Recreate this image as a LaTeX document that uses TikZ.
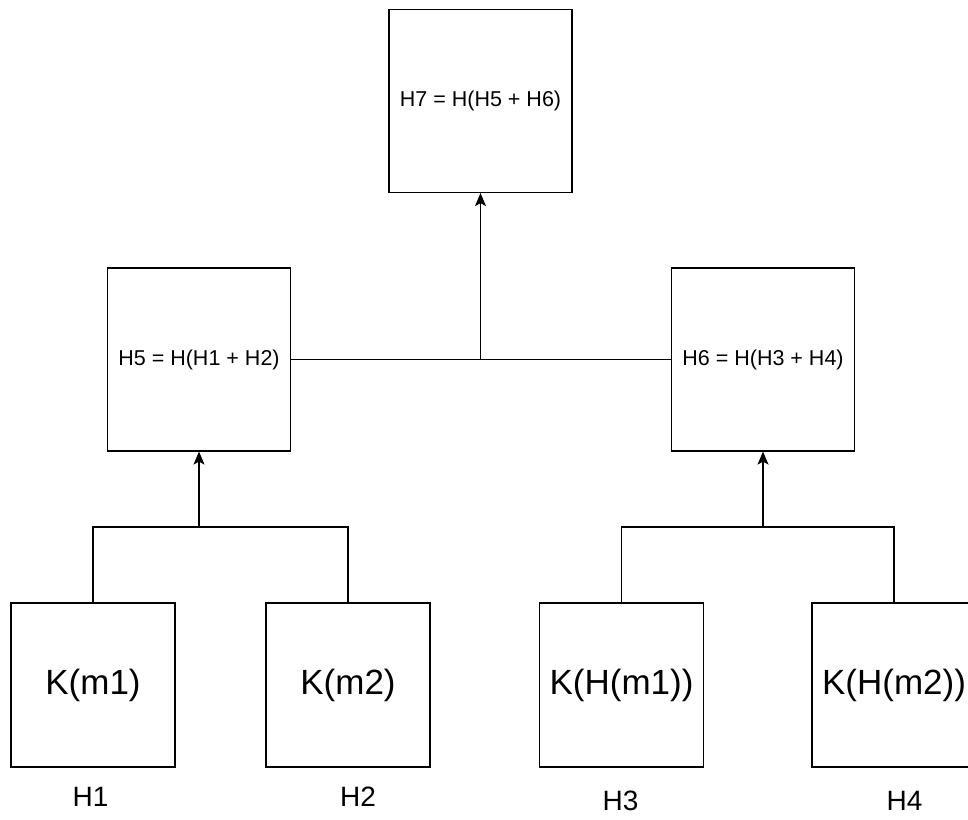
\documentclass[tikz,border=0pt]{standalone}
\usepackage{fontspec}
\setmainfont{Liberation Sans}
\usetikzlibrary{arrows.meta}

\begin{document}
\begin{tikzpicture}[x=1pt,y=-1pt,line width=1.2pt,
  hashbox/.style={draw, minimum width=183pt, minimum height=183pt, inner sep=0pt,
    font=\fontsize{21.5}{24}\selectfont},
  keybox/.style={draw, minimum width=164pt, minimum height=164pt, inner sep=0pt,
    font=\fontsize{35}{40}\selectfont},
  hlabel/.style={font=\fontsize{28}{30}\selectfont, inner sep=0pt},
  uparrow/.style={-{Stealth[length=13pt,width=11pt,inset=3pt]}}]
\useasboundingbox (0,0) rectangle (968,819);
\clip (0,0) rectangle (968,819);

% top of the tree
\node[hashbox] (h7) at (480.5,101) {H7 = H(H5 + H6)};
\node[hashbox] (h5) at (199,359.5) {H5 = H(H1 + H2)};
\node[hashbox] (h6) at (763,359.5) {H6 = H(H3 + H4)};

% leaves
\node[keybox] (km1) at (93,685) {K(m1)};
\node[keybox] (km2) at (348,685) {K(m2)};
\node[keybox] (khm1) at (621.5,685) {K(H(m1))};
\node[keybox] (khm2) at (894,685) {K(H(m2))};

\node[hlabel] (l1) at (90.5,797) {H1};
\node[hlabel] (l2) at (358,797) {H2};
\node[hlabel] (l3) at (620.5,801) {H3};
\node[hlabel] (l4) at (904.5,801) {H4};

% joins
\coordinate (j1) at (199,527);
\coordinate (j2) at (763,527);
\coordinate (j3) at (480.5,359.5);

\draw (km1.north) |- (j1) -| (km2.north);
\draw[uparrow] (j1) -- (h5.south);
\draw (khm1.north) |- (j2) -| (khm2.north);
\draw[uparrow] (j2) -- (h6.south);
\draw (h5.east) -- (h6.west);
\draw[uparrow] (j3) -- (h7.south);
\end{tikzpicture}
\end{document}
